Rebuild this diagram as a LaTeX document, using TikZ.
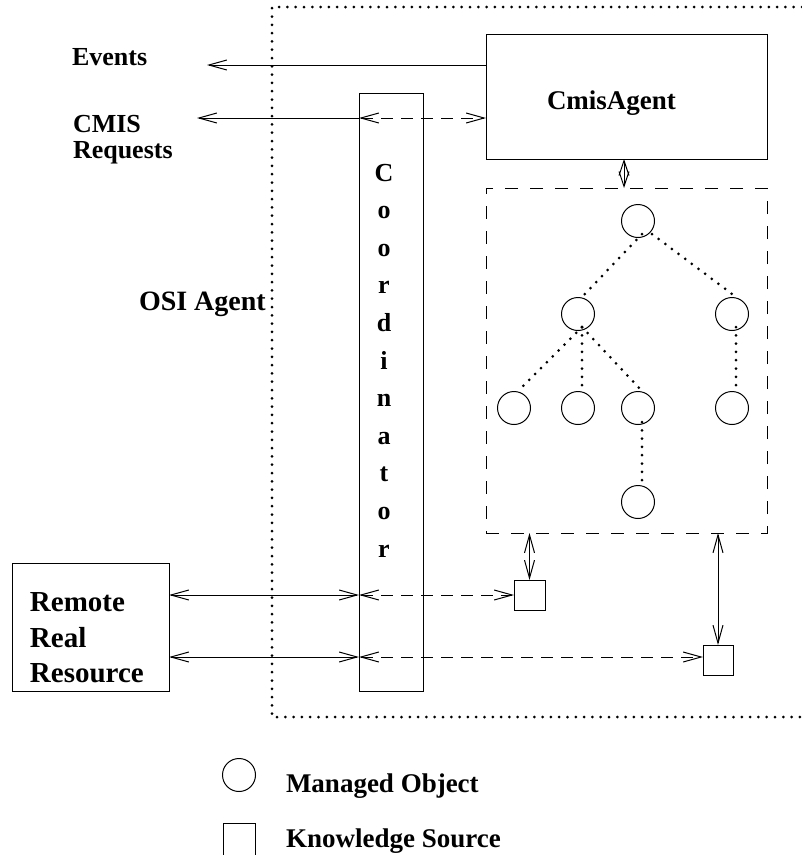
\documentclass[tikz,border=0pt]{standalone}
\usepackage{fontspec}
\setmainfont{Liberation Serif}
\usetikzlibrary{arrows.meta,calc}
\begin{document}
\begin{tikzpicture}[x=1pt,y=-1pt,
  lw/.style={line width=1pt},
  box/.style={draw,line width=1pt,inner sep=0pt,outer sep=0pt,anchor=north west,rectangle},
  arr/.style={line width=1pt,-{Straight Barb[length=18pt,width=10pt]}},
  darr/.style={line width=1pt,{Straight Barb[length=18pt,width=10pt]}-{Straight Barb[length=18pt,width=10pt]}},
  sdarr/.style={line width=1pt,{Straight Barb[length=15pt,width=10pt]}-{Straight Barb[length=15pt,width=10pt]}},
  dsh/.style={dash pattern=on 12pt off 8pt},
  boxdsh/.style={dash pattern=on 13pt off 12pt},
  dots/.style={line width=3pt,line cap=round,dash pattern=on 0pt off 8.3pt},
  lbl/.style={inner sep=0pt,outer sep=0pt,anchor=base west},
  mo/.style={draw,circle,minimum size=33pt,inner sep=0pt,outer sep=0pt,line width=1pt},
]
\useasboundingbox (0,0) rectangle (802,855);

% boundary of the OSI agent
\coordinate (bTR) at (802,7);
\coordinate (bTL) at (272,7);
\coordinate (bBL) at (272,717);
\coordinate (bBR) at (802,717);
\draw[dots] (bTR) -- (bTL) -- (bBL) -- (bBR);

% boxes
\node[box,minimum width=281pt,minimum height=125pt] (cmis) at (486,34) {};
\node[box,boxdsh,minimum width=281pt,minimum height=345pt] (mib) at (486,188) {};
\node[box,minimum width=64pt,minimum height=598pt] (coord) at (359,93) {};
\node[box,minimum width=157pt,minimum height=128pt] (rrr) at (12,563) {};
\node[box,minimum width=31pt,minimum height=30pt] (ks1) at (514,580) {};
\node[box,minimum width=30pt,minimum height=30pt] (ks2) at (703,645) {};

% labels
\node[lbl,font=\fontsize{26}{30}\selectfont\bfseries] (ev) at (72,65) {Events};
\node[lbl,font=\fontsize{26}{30}\selectfont\bfseries] (cm) at (73,132) {CMIS};
\node[lbl,font=\fontsize{26}{30}\selectfont\bfseries] (rq) at (73,158) {Requests};
\node[lbl,font=\fontsize{28}{30}\selectfont\bfseries] (osi) at (139,310) {OSI Agent};
\node[lbl,font=\fontsize{27}{30}\selectfont\bfseries] (cmt) at (547,109) {CmisAgent};
\node[lbl,font=\fontsize{29}{30}\selectfont\bfseries] (rr1) at (30,611) {Remote};
\node[lbl,font=\fontsize{29}{30}\selectfont\bfseries] (rr2) at (30,647) {Real};
\node[lbl,font=\fontsize{29}{30}\selectfont\bfseries] (rr3) at (30,682) {Resource};
\foreach \l [count=\i from 0] in {C,o,o,r,d,i,n,a,t,o,r}
  \node[inner sep=0pt,anchor=base,font=\fontsize{26}{30}\selectfont\bfseries] (cl\i) at (384,181+37.6*\i) {\l};

% connectors
\coordinate (evEnd) at (207,65);
\draw[arr] (cmis.west |- evEnd) -- (evEnd);
\coordinate (reqEnd) at (197,118);
\draw[arr] (coord.west |- reqEnd) -- (reqEnd);
\draw[darr,dsh] (coord.west |- reqEnd) -- (cmis.west |- reqEnd);
\coordinate (mibx) at (624,0);
\draw[sdarr] (cmis.south -| mibx) -- (mib.north -| mibx);

\coordinate (r1) at (0,595);
\coordinate (r2) at (0,657);
\draw[darr] (rrr.east |- r1) -- (coord.west |- r1);
\draw[darr,dsh] (coord.west |- r1) -- (ks1.west |- r1);
\draw[darr] (rrr.east |- r2) -- (coord.west |- r2);
\draw[darr,dsh] (coord.west |- r2) -- (ks2.west |- r2);
\draw[darr] (mib.south -| ks1.north) -- (ks1.north);
\draw[darr] (mib.south -| ks2.north) -- (ks2.north);

% managed object tree
\node[mo] (t) at (638,221) {};
\node[mo] (mL) at (578,314) {};
\node[mo] (mR) at (732,314) {};
\node[mo] (b1) at (514,408) {};
\node[mo] (b2) at (578,408) {};
\node[mo] (b3) at (638,408) {};
\node[mo] (b4) at (732,408) {};
\node[mo] (b5) at (638,502) {};
\draw[dots] ($(t.center)+(4,13)$) -- ($(mL.center)+(4,-17)$);
\draw[dots] ($(t.center)+(14,13)$) -- ($(mR.center)+(4,-17)$);
\draw[dots] ($(mL.center)+(4,13)$) -- ($(b1.center)+(4,-17)$);
\draw[dots] ($(mL.center)+(4,13)$) -- ($(b2.center)+(4,-17)$);
\draw[dots] ($(mL.center)+(4,13)$) -- ($(b3.center)+(4,-17)$);
\draw[dots] ($(mR.center)+(4,13)$) -- ($(b4.center)+(4,-17)$);
\draw[dots] ($(b3.center)+(4,14)$) -- ($(b5.center)+(4,-15)$);

% legend
\node[mo] (lgc) at (239,775) {};
\node[lbl,font=\fontsize{27}{30}\selectfont\bfseries] (lgt1) at (286,792) {Managed Object};
\node[box,minimum width=32pt,minimum height=32pt] (lgs) at (223,823) {};
\node[lbl,font=\fontsize{27}{30}\selectfont\bfseries] (lgt2) at (286,847) {Knowledge Source};
\end{tikzpicture}
\end{document}
